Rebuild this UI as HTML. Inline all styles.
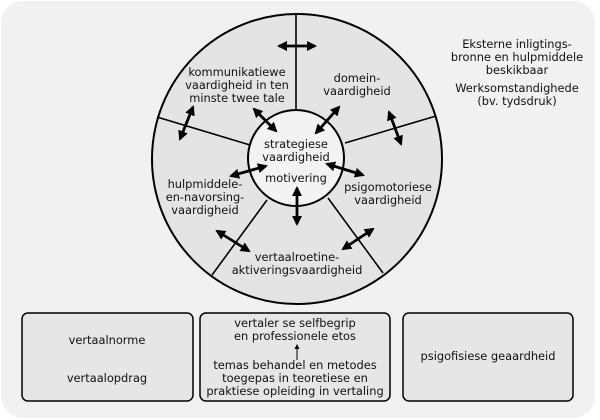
<!DOCTYPE html>
<html><head><meta charset="utf-8"><style>
html,body{margin:0;padding:0;background:#fff;}
svg{display:block;}
text{font-family:"DejaVu Sans","Liberation Sans",sans-serif;font-size:11.4px;fill:#111;text-anchor:middle;}
</style></head><body>
<svg width="600" height="420" viewBox="0 0 600 420">
<defs>
<marker id="a" viewBox="0 0 10 10" refX="8" refY="5" markerWidth="3.6" markerHeight="3.6" orient="auto-start-reverse">
<path d="M0,0 L10,5 L0,10 z" fill="#000"/></marker>
<marker id="s" viewBox="0 0 10 10" refX="8" refY="5" markerWidth="5" markerHeight="5" orient="auto">
<path d="M0,0 L10,5 L0,10 z" fill="#000"/></marker>
</defs>
<rect x="1" y="1" width="594" height="417" rx="22" fill="#f1f1f1"/>
<circle cx="297" cy="159" r="145" fill="#e4e4e4" stroke="#000" stroke-width="2"/>
<g stroke="#000" stroke-width="1.6">
<line x1="296" y1="14" x2="296" y2="112"/>
<line x1="157" y1="117" x2="250" y2="145"/>
<line x1="345" y1="143" x2="436" y2="116"/>
<line x1="212" y1="275" x2="267" y2="200"/>
<line x1="383" y1="273" x2="328" y2="198"/>
</g>
<circle cx="296" cy="158" r="48" fill="#f3f3f3" stroke="#000" stroke-width="2"/>
<g stroke="#000" stroke-width="2.8" marker-start="url(#a)" marker-end="url(#a)">
<line x1="279" y1="46" x2="315" y2="46"/>
<line x1="193" y1="107" x2="180" y2="139"/>
<line x1="254" y1="109" x2="276" y2="131"/>
<line x1="339" y1="107" x2="316" y2="133"/>
<line x1="389" y1="112" x2="401" y2="144"/>
<line x1="266" y1="166" x2="231" y2="176"/>
<line x1="327" y1="164" x2="363" y2="175"/>
<line x1="297" y1="188" x2="297" y2="224"/>
<line x1="217" y1="231" x2="249" y2="251"/>
<line x1="373" y1="229" x2="343" y2="249"/>
</g>
<text x="237" y="76">kommunikatiewe</text>
<text x="237" y="89">vaardigheid in ten</text>
<text x="237" y="102">minste twee tale</text>
<text x="357" y="82">domein-</text>
<text x="357" y="95">vaardigheid</text>
<text x="296" y="148">strategiese</text>
<text x="296" y="161">vaardigheid</text>
<text x="296" y="182">motivering</text>
<text x="388" y="191">psigomotoriese</text>
<text x="388" y="204">vaardigheid</text>
<text x="205" y="188">hulpmiddele-</text>
<text x="205" y="201">en-navorsing-</text>
<text x="205" y="214">vaardigheid</text>
<text x="297" y="261">vertaalroetine-</text>
<text x="297" y="274">aktiveringsvaardigheid</text>
<text x="517" y="48">Eksterne inligtings-</text>
<text x="517" y="61">bronne en hulpmiddele</text>
<text x="517" y="74">beskikbaar</text>
<text x="517" y="92">Werksomstandighede</text>
<text x="517" y="105">(bv. tydsdruk)</text>
<g fill="#e6e6e6" stroke="#000" stroke-width="1.5">
<rect x="22" y="313" width="171" height="88" rx="6"/>
<rect x="200" y="313" width="190" height="88" rx="6"/>
<rect x="403" y="313" width="170" height="88" rx="6"/>
</g>
<text x="107" y="344">vertaalnorme</text>
<text x="107" y="382">vertaalopdrag</text>
<text x="295" y="327">vertaler se selfbegrip</text>
<text x="295" y="340">en professionele etos</text>
<line x1="297" y1="360" x2="297" y2="345" stroke="#000" stroke-width="1" marker-end="url(#s)"/>
<text x="295" y="369">temas behandel en metodes</text>
<text x="295" y="382">toegepas in teoretiese en</text>
<text x="295" y="395">praktiese opleiding in vertaling</text>
<text x="488" y="360">psigofisiese geaardheid</text>
</svg>
</body></html>
